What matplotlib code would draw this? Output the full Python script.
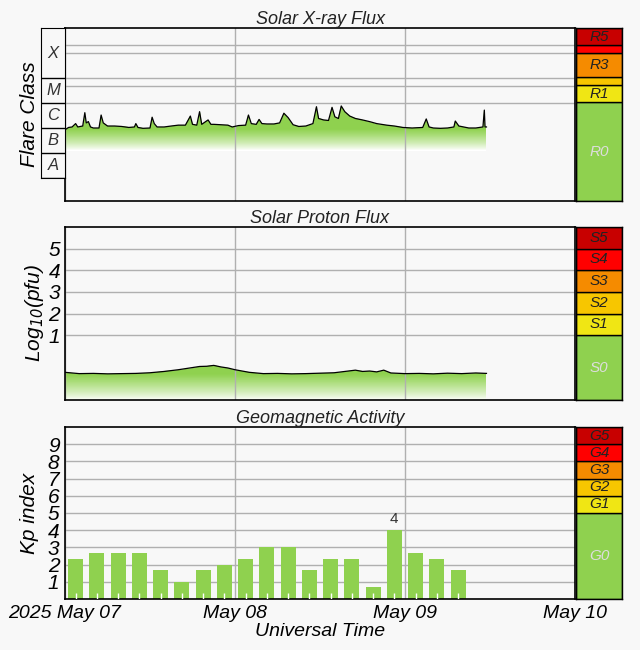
import numpy as np
import matplotlib.pyplot as plt
from matplotlib.ticker import NullFormatter
from matplotlib.colors import LinearSegmentedColormap

plt.rcParams['font.family'] = 'Liberation Sans'
plt.rcParams['font.style'] = 'italic'

BG = '#f8f8f8'
GREEN = '#8fd14f'
GRID = '#b0b0b0'

# x-ray flux, hours since 2025-05-07 00:00 UT, W/m^2 (x 1e-6)
xr_hours = [0, 0.5, 1.0, 1.5, 1.8, 2.5, 2.8, 3.0, 3.3, 3.6, 4.0, 4.8, 5.1, 5.4, 6.0, 7.0, 8.0, 9.0,
            9.8, 10.0, 10.3, 11.0, 12.0, 12.3, 12.6, 13.0, 14.0, 15.0, 16.0, 17.0, 17.7, 18.0, 18.6,
            19.0, 19.3, 20.2, 20.6, 21, 22, 23, 23.6, 24.5, 25.5, 25.9, 26.3, 27.0, 27.4, 27.8, 28.5,
            29.5, 30.3, 30.9, 31.5, 32.2, 33, 34, 35, 35.5, 35.8, 36.5, 37.2, 37.7, 38.1, 38.6, 39.0,
            39.5, 40.2, 41, 42, 43, 44, 45.4, 46.5, 47.7, 49, 50.5, 51.0, 51.4, 52, 53, 54, 54.9, 55.1,
            55.6, 57, 58, 59, 59.2, 59.3, 59.5]
xr_flux = [0.85, 1.05, 1.1, 1.5, 1.1, 1.2, 4.1, 1.6, 1.8, 1.1, 1.0, 1.0, 3.3, 1.6, 1.2, 1.2, 1.15, 1.05,
           1.1, 1.5, 1.05, 0.97, 1.0, 2.7, 1.5, 1.1, 1.1, 1.2, 1.3, 1.3, 3.0, 1.4, 1.3,
           4.5, 1.4, 2.1, 1.4, 1.4, 1.35, 1.3, 1.1, 1.25, 1.3, 3.3, 1.5, 1.4, 2.2, 1.5, 1.45,
           1.45, 1.6, 3.9, 2.6, 1.35, 1.15, 1.2, 1.5, 7.1, 2.4, 2.1, 2.0, 6.7, 2.8, 2.4, 7.6,
           4.5, 3.0, 2.4, 2.1, 1.8, 1.5, 1.3, 1.2, 1.05, 1.0, 1.05, 2.3, 1.1, 1.0, 0.97, 1.0, 1.1, 1.9,
           1.2, 1.0, 1.0, 1.1, 5.2, 1.1, 1.1]

# proton flux, log10(pfu)
pr_hours = [0, 2, 4, 6, 8, 10, 12, 14, 16, 17, 18, 19, 20, 21, 22, 23, 24, 26, 28, 30, 32, 34, 36,
            38, 40, 41, 42, 43, 44, 45, 46, 48, 50, 52, 54, 56, 58, 59.5]
pr_log = [-0.72, -0.78, -0.77, -0.79, -0.78, -0.77, -0.74, -0.68, -0.6, -0.55, -0.5, -0.45, -0.44,
          -0.40, -0.47, -0.52, -0.6, -0.72, -0.78, -0.77, -0.79, -0.78, -0.76, -0.74, -0.66, -0.62,
          -0.68, -0.66, -0.7, -0.62, -0.75, -0.78, -0.77, -0.79, -0.76, -0.78, -0.75, -0.77]

# Kp index, 3-hour bins
kp_values = [2.33, 2.67, 2.67, 2.67, 1.67, 1.0, 1.67, 2.0, 2.33, 3.0, 3.0, 1.67, 2.33, 2.33,
             0.67, 4.0, 2.67, 2.33, 1.67]

day_ticks = [0, 24, 48, 72]
day_labels = ['2025 May 07', 'May 08', 'May 09', 'May 10']

r_bounds = [1e-9, 1e-5, 5e-5, 1e-4, 1e-3, 2e-3, 1e-2]
r_labels = ['R0', 'R1', '', 'R3', '', 'R5']
s_bounds = [-2, 1, 2, 3, 4, 5, 6]
s_labels = ['S0', 'S1', 'S2', 'S3', 'S4', 'S5']
g_bounds = [0, 5, 6, 7, 8, 9, 10]
g_labels = ['G0', 'G1', 'G2', 'G3', 'G4', 'G5']
scale_colors = [GREEN, '#f0e614', '#f7c600', '#f58b00', '#ff0000', '#c80000']

flare_bounds = [1e-8, 1e-7, 1e-6, 1e-5, 1e-4, 1e-2]
flare_labels = ['A', 'B', 'C', 'M', 'X']

fade = LinearSegmentedColormap.from_list('fade', ['#ffffff', GREEN])

fig = plt.figure(figsize=(6.4, 6.5), dpi=100, facecolor=BG)
L, W = 65 / 640, 510 / 640
SL, SW = 576 / 640, 46 / 640


def ax_box(top, bottom):
    return [L, 1 - bottom / 650, W, (bottom - top) / 650]


def scale_box(top, bottom):
    return [SL, 1 - bottom / 650, SW, (bottom - top) / 650]


def style_main(ax, title):
    ax.set_facecolor(BG)
    ax.set_xlim(0, 72)
    ax.set_xticks(day_ticks)
    ax.xaxis.grid(True, color=GRID, lw=1)
    ax.set_title(title, fontsize=13, pad=3, color='#222222')
    ax.tick_params(axis='x', length=0, labelbottom=False)
    for s in ax.spines.values():
        s.set_linewidth(1.2)


def gradient_fill(ax, x, y, base, full_at, clear_at, top_edge, log=False):
    # green fill under the curve, fading to white going down
    poly = ax.fill_between(x, base, y, color='none', lw=0)
    if log:
        edges = np.logspace(np.log10(base), np.log10(top_edge), 200)
        pos = (np.log10(edges) - np.log10(clear_at)) / (np.log10(full_at) - np.log10(clear_at))
    else:
        edges = np.linspace(base, top_edge, 200)
        pos = (edges - clear_at) / (full_at - clear_at)
    vals = np.clip(pos[:-1], 0, 1).reshape(-1, 1) ** 0.8
    mesh = ax.pcolormesh([x[0], x[-1]], edges, vals, cmap=fade, vmin=0, vmax=1,
                         shading='flat', zorder=1.5)
    mesh.set_clip_path(poly.get_paths()[0], transform=ax.transData)


def draw_scale(box, bounds, labels, log=False):
    sa = fig.add_axes(box)
    for i in range(len(labels)):
        sa.bar(0.5, bounds[i + 1] - bounds[i], bottom=bounds[i], width=1,
               color=scale_colors[i], edgecolor='black', lw=1)
        if labels[i]:
            if log:
                yc = np.sqrt(bounds[i] * bounds[i + 1])
            else:
                yc = (bounds[i] + bounds[i + 1]) / 2
            tc = '#dddddd' if i == 0 else '#222222'
            sa.text(0.5, yc, labels[i], ha='center', va='center', fontsize=11, color=tc)
    if log:
        sa.set_yscale('log')
    sa.set_ylim(bounds[0], bounds[-1])
    sa.set_xlim(0, 1)
    sa.set_xticks([])
    sa.set_yticks([])
    sa.yaxis.set_minor_formatter(NullFormatter())
    sa.minorticks_off()
    for s in sa.spines.values():
        s.set_linewidth(1.0)
    return sa


# ---------- X-ray ----------
ax1 = fig.add_axes(ax_box(28, 201))
style_main(ax1, 'Solar X-ray Flux')
ax1.set_yscale('log')
xh = np.array(xr_hours)
xf = np.array(xr_flux) * 1e-6
gradient_fill(ax1, xh, xf, 1.2e-7, 9e-7, 1.3e-7, 1e-5, log=True)
ax1.plot(xh, xf, color='black', lw=0.9, zorder=3)
ax1.set_ylim(1.2e-9, 1e-2)
ax1.set_yticks([1e-5, 5e-5, 1e-4, 1e-3, 2e-3])
ax1.yaxis.grid(True, color=GRID, lw=1)
ax1.minorticks_off()
ax1.tick_params(axis='y', length=0, labelleft=False)
ax1.set_ylabel('Flare Class', fontsize=15, labelpad=19)
draw_scale(scale_box(28, 201), r_bounds, r_labels, log=True)

fa = fig.add_axes([41 / 640, 1 - 178 / 650, 24 / 640, 150 / 650])
fa.set_facecolor(BG)
fa.set_yscale('log')
fa.set_ylim(1e-8, 1e-2)
fa.set_xlim(0, 1)
for i, lab in enumerate(flare_labels):
    fa.axhline(flare_bounds[i], color='black', lw=1)
    fa.text(0.5, np.sqrt(flare_bounds[i] * flare_bounds[i + 1]), lab,
            ha='center', va='center', fontsize=12, color='#333333')
fa.set_xticks([])
fa.set_yticks([])
fa.minorticks_off()

# ---------- Protons ----------
ax2 = fig.add_axes(ax_box(227, 400))
style_main(ax2, 'Solar Proton Flux')
ph = np.array(pr_hours)
pl = np.array(pr_log)
gradient_fill(ax2, ph, pl, -2, -0.8, -2.0, 0)
ax2.plot(ph, pl, color='black', lw=0.9, zorder=3)
ax2.set_ylim(-2, 6)
ax2.set_yticks([1, 2, 3, 4, 5])
ax2.yaxis.grid(True, color=GRID, lw=1)
ax2.tick_params(axis='y', length=0, labelsize=15)
ax2.set_ylabel('Log$_{10}$(pfu)', fontsize=15, labelpad=2)
draw_scale(scale_box(227, 400), s_bounds, s_labels)

# ---------- Kp ----------
ax3 = fig.add_axes(ax_box(427, 599))
style_main(ax3, 'Geomagnetic Activity')
ax3.set_ylim(0, 10)
centers = np.arange(len(kp_values)) * 3 + 1.5
ax3.bar(centers, kp_values, width=2.1, color=GREEN, zorder=2)
ax3.vlines(centers, 0, 0.35, color='white', lw=1, zorder=3)
imax = int(np.argmax(kp_values))
ax3.text(centers[imax], kp_values[imax] + 0.25, '%d' % kp_values[imax], ha='center',
         va='bottom', fontsize=11, color='#333333', style='normal')
ax3.set_yticks(range(1, 10))
ax3.yaxis.grid(True, color=GRID, lw=1, zorder=1)
ax3.set_axisbelow(True)
ax3.tick_params(axis='y', length=0, labelsize=15, pad=4)
ax3.tick_params(axis='x', which='major', labelbottom=True, labelsize=14, pad=4)
ax3.set_xticklabels(day_labels)
ax3.set_xlabel('Universal Time', fontsize=14, labelpad=1)
ax3.set_ylabel('Kp index', fontsize=15, labelpad=6)
draw_scale(scale_box(427, 599), g_bounds, g_labels)

fig.savefig('out.png', dpi=100, facecolor=BG)
